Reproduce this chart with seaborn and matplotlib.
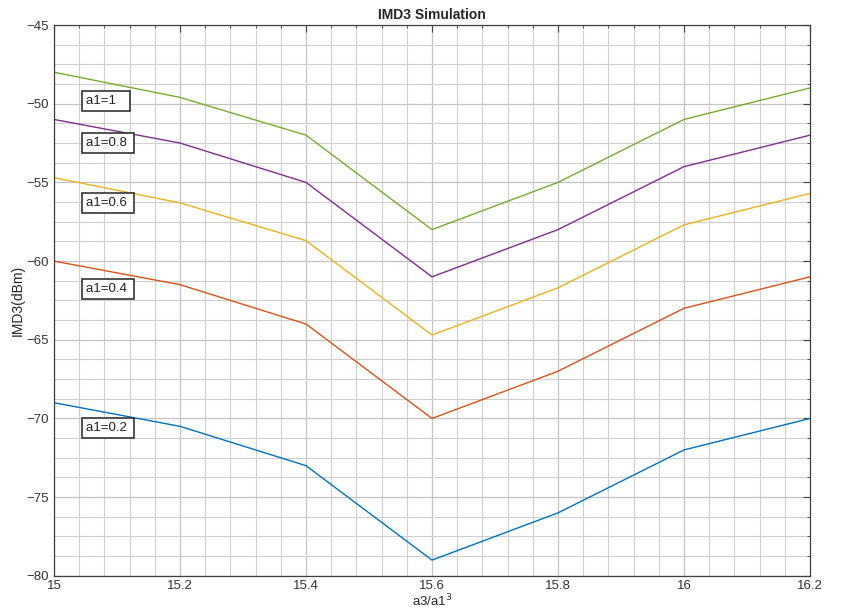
import matplotlib
matplotlib.use("Agg")
import matplotlib.pyplot as plt
from matplotlib.ticker import MultipleLocator
import pandas as pd
import seaborn as sns

# Ratio a3/a1^3 sampled in the sweep
ratio = [15.0, 15.2, 15.4, 15.6, 15.8, 16.0, 16.2]

# IMD3 (dBm) for each fundamental amplitude a1
imd3_a1_02 = [-69.0, -70.5, -73.0, -79.0, -76.0, -72.0, -70.0]
imd3_a1_04 = [-60.0, -61.5, -64.0, -70.0, -67.0, -63.0, -61.0]
imd3_a1_06 = [-54.7, -56.3, -58.7, -64.7, -61.7, -57.7, -55.7]
imd3_a1_08 = [-51.0, -52.5, -55.0, -61.0, -58.0, -54.0, -52.0]
imd3_a1_10 = [-48.0, -49.6, -52.0, -58.0, -55.0, -51.0, -49.0]

series_names = ["a1=0.2", "a1=0.4", "a1=0.6", "a1=0.8", "a1=1"]
series_values = [imd3_a1_02, imd3_a1_04, imd3_a1_06, imd3_a1_08, imd3_a1_10]

# Annotation anchor points (x, y) for the boxed labels
label_x = [15.05, 15.05, 15.05, 15.05, 15.05]
label_y = [-70.6, -61.8, -56.3, -52.5, -49.8]

colors = ["#0072BD", "#D95319", "#EDB120", "#7E2F8E", "#77AC30"]

rows = []
for name, vals in zip(series_names, series_values):
    for x, y in zip(ratio, vals):
        rows.append({"ratio": x, "imd3": y, "a1": name})
df = pd.DataFrame(rows)

sns.set_style("white")
plt.rcParams["font.family"] = ["Liberation Sans", "DejaVu Sans"]

fig = plt.figure(figsize=(8.44, 6.10), dpi=100)
ax = fig.add_axes([0.064, 0.056, 0.8957, 0.903])

sns.lineplot(data=df, x="ratio", y="imd3", hue="a1", hue_order=series_names,
             palette=colors, linewidth=1.0, legend=False, ax=ax)

for name, lx, ly in zip(series_names, label_x, label_y):
    ax.text(lx, ly, f"{name:<7}", fontsize=9.5, ha="left", va="center",
            color="#222222",
            bbox=dict(boxstyle="square,pad=0.3", facecolor="white",
                      edgecolor="#333333", linewidth=1.2))

ax.set_xlim(15.0, 16.2)
ax.set_ylim(-80, -45)
ax.xaxis.set_major_locator(MultipleLocator(0.2))
ax.xaxis.set_minor_locator(MultipleLocator(0.04))
ax.yaxis.set_major_locator(MultipleLocator(5))
ax.yaxis.set_minor_locator(MultipleLocator(1.25))
ax.set_xticklabels([f"{v:g}" for v in ax.get_xticks()])

ax.grid(which="major", color="#c4c4c4", linewidth=0.9)
ax.grid(which="minor", color="#cfcfcf", linewidth=0.8)
ax.set_axisbelow(True)

ax.tick_params(which="both", direction="in", top=True, right=True,
               colors="#404040", labelcolor="#333333", labelsize=9.5)
ax.tick_params(which="major", length=5, width=0.8)
ax.tick_params(which="minor", length=2.5, width=0.6)
ax.tick_params(axis="x", which="major", pad=3)
ax.tick_params(axis="y", which="major", pad=4)
for spine in ax.spines.values():
    spine.set_color("#404040")
    spine.set_linewidth(0.9)

ax.set_xlabel("a3/a1$^3$", fontsize=9.5, labelpad=0.5, color="#262626")
ax.set_ylabel("IMD3(dBm)", fontsize=10, labelpad=1, color="#262626")
ax.set_title("IMD3 Simulation", fontsize=10, fontweight="bold", pad=4)

fig.savefig("out.png", dpi=100)
